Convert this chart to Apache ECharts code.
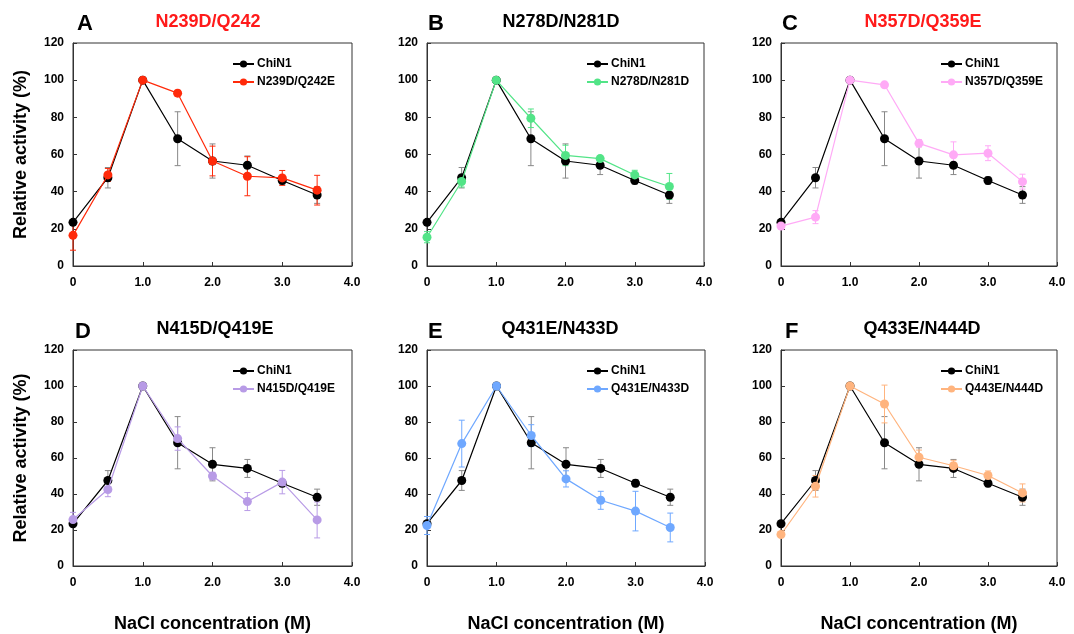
<!DOCTYPE html>
<html>
<head>
<meta charset="utf-8">
<script src="https://cdn.jsdelivr.net/npm/echarts@6/dist/echarts.min.js"></script>
<style>
  html, body { margin: 0; padding: 0; background: #fff; }
  #myChart { width: 1074px; height: 634px; }
</style>
</head>
<body>
<div id="myChart"></div>
<script>
// NaCl concentration (M)
var conc = [0, 0.5, 1.0, 1.5, 2.0, 2.5, 3.0, 3.5];
var xTicks = ['0', '1.0', '2.0', '3.0', '4.0'];

// wild type, same in every panel
var chin1 = [23.5, 47.5, 100, 68.5, 56.5, 54.2, 46, 38.2];
var chin1Err = [1.5, 5.5, 0, 14.5, 9.2, 5, 2, 4.5];

// mutants
var panelLetters = ['A', 'B', 'C', 'D', 'E', 'F'];
var panelTitles = ['N239D/Q242', 'N278D/N281D', 'N357D/Q359E', 'N415D/Q419E', 'Q431E/N433D', 'Q433E/N444D'];
var mutantNames = ['N239D/Q242E', 'N278D/N281D', 'N357D/Q359E', 'N415D/Q419E', 'Q431E/N433D', 'Q443E/N444D'];

var mutA = [16.5, 49, 100, 93, 56.5, 48.3, 47.4, 40.8];
var mutAErr = [8, 3.5, 0, 1.5, 8, 10.5, 4, 8];
var mutB = [15.5, 45.5, 100, 79.5, 59.5, 57.8, 49, 42.8];
var mutBErr = [3, 3, 0, 5, 5.5, 1, 2.5, 7];
var mutC = [21.5, 26.3, 100, 97.5, 66, 59.8, 60.7, 45.4];
var mutCErr = [1, 3.5, 0, 1, 2, 7, 4, 4];
var mutD = [25.8, 42.5, 100, 70.8, 50, 35.8, 46.6, 25.6];
var mutDErr = [4, 4, 0, 6.5, 2, 5, 6.5, 10];
var mutE = [22.5, 68, 100, 72.5, 48.4, 36.5, 30.5, 21.4];
var mutEErr = [5, 13, 0, 6, 4.5, 5, 11, 8];
var mutF = [17.5, 44.3, 100, 90, 60.4, 55.7, 50.3, 40.6];
var mutFErr = [1.5, 6, 0, 10.5, 4, 3, 2.5, 5];

var mutants = [mutA, mutB, mutC, mutD, mutE, mutF];
var mutantErrs = [mutAErr, mutBErr, mutCErr, mutDErr, mutEErr, mutFErr];
var mutantColors = ['#ff2a0a', '#52e487', '#ffaaf6', '#b89be6', '#6fa8ff', '#ffb47e'];
var titleColors = ['#ff1a1a', '#000', '#ff1a1a', '#000', '#000', '#000'];

var FONT = '"Liberation Sans", Arial, sans-serif';

// layout of the six plot boxes
var boxes = [
  {left: 73, top: 43, width: 279, height: 223},
  {left: 427, top: 43, width: 277, height: 223},
  {left: 781, top: 43, width: 276, height: 223},
  {left: 73, top: 350, width: 279, height: 223},
  {left: 427, top: 350, width: 278, height: 223},
  {left: 781, top: 350, width: 276, height: 223}
];
var letterPos = [[77, 24], [428, 24], [782, 24], [75, 332], [428, 332], [785, 332]];
var titlePos = [[208, 22], [561, 22], [923, 22], [215, 329], [560, 329], [922, 329]];

function errData(vals, errs) {
  return conc.map(function (x, i) { return [x, vals[i] - errs[i], vals[i] + errs[i]]; });
}

function errRender(color) {
  return function (params, api) {
    var x = api.value(0);
    var lo = api.coord([x, api.value(1)]);
    var hi = api.coord([x, api.value(2)]);
    var st = {stroke: color, lineWidth: 1};
    return {
      type: 'group',
      children: [
        {type: 'line', shape: {x1: lo[0], y1: lo[1], x2: hi[0], y2: hi[1]}, style: st},
        {type: 'line', shape: {x1: hi[0] - 3, y1: hi[1], x2: hi[0] + 3, y2: hi[1]}, style: st},
        {type: 'line', shape: {x1: lo[0] - 3, y1: lo[1], x2: lo[0] + 3, y2: lo[1]}, style: st}
      ]
    };
  };
}

var grids = [], xAxes = [], yAxes = [], series = [], legends = [], graphics = [];

boxes.forEach(function (b, i) {
  grids.push({left: b.left, top: b.top, width: b.width, height: b.height,
    show: true, borderColor: '#333', borderWidth: 1, backgroundColor: '#fff'});

  xAxes.push({
    type: 'value', gridIndex: i, min: 0, max: 4, interval: 1,
    axisLine: {lineStyle: {color: '#333'}},
    axisTick: {inside: true, length: 4, lineStyle: {color: '#333'}},
    splitLine: {show: false},
    axisLabel: {color: '#000', fontFamily: FONT, fontWeight: 'bold', fontSize: 12, margin: 11,
      formatter: function (v) { return xTicks[Math.round(v)]; }},
    name: i >= 3 ? 'NaCl concentration (M)' : '',
    nameLocation: 'middle', nameGap: 49,
    nameTextStyle: {color: '#000', fontFamily: FONT, fontWeight: 'bold', fontSize: 18}
  });

  yAxes.push({
    type: 'value', gridIndex: i, min: 0, max: 120, interval: 20,
    axisLine: {show: true, lineStyle: {color: '#333'}},
    axisTick: {show: true, inside: true, length: 4, lineStyle: {color: '#333'}},
    splitLine: {show: false},
    axisLabel: {color: '#000', fontFamily: FONT, fontWeight: 'bold', fontSize: 12, margin: 9},
    name: (i === 0 || i === 3) ? 'Relative activity (%)' : '',
    nameLocation: 'middle', nameGap: 43,
    nameTextStyle: {color: '#000', fontFamily: FONT, fontWeight: 'bold', fontSize: 18}
  });

  var mc = mutantColors[i];

  // error bars first so the markers sit on top
  series.push({
    type: 'custom', name: 'errChi' + i, xAxisIndex: i, yAxisIndex: i, z: 1,
    renderItem: errRender('#888'), data: errData(chin1, chin1Err), silent: true
  });
  series.push({
    type: 'custom', name: 'errMut' + i, xAxisIndex: i, yAxisIndex: i, z: 1,
    renderItem: errRender(mc), data: errData(mutants[i], mutantErrs[i]), silent: true
  });

  series.push({
    type: 'line', name: 'ChiN1', xAxisIndex: i, yAxisIndex: i, z: 3,
    data: conc.map(function (x, k) { return [x, chin1[k]]; }),
    symbol: 'circle', symbolSize: 9, color: '#000',
    lineStyle: {color: '#000', width: 1.2}, itemStyle: {color: '#000'}
  });
  series.push({
    type: 'line', name: mutantNames[i], xAxisIndex: i, yAxisIndex: i, z: 4,
    data: conc.map(function (x, k) { return [x, mutants[i][k]]; }),
    symbol: 'circle', symbolSize: 9, color: mc,
    lineStyle: {color: mc, width: 1.2}, itemStyle: {color: mc}
  });

  legends.push({
    data: ['ChiN1', mutantNames[i]], orient: 'vertical',
    left: b.left + 159, top: b.top + 15, padding: 0,
    itemWidth: 21, itemHeight: 9, itemGap: 6,
    textStyle: {color: '#000', fontFamily: FONT, fontWeight: 'bold', fontSize: 12, padding: [0, 0, 0, -2]},
    selectedMode: false
  });

  graphics.push({
    type: 'text', x: letterPos[i][0], y: letterPos[i][1],
    style: {text: panelLetters[i], fill: '#000', font: 'bold 22px ' + FONT, textVerticalAlign: 'middle'}
  });
  graphics.push({
    type: 'text', x: titlePos[i][0], y: titlePos[i][1],
    style: {text: panelTitles[i], fill: titleColors[i], font: 'bold 18px ' + FONT,
      textAlign: 'center', textVerticalAlign: 'middle'}
  });
});

var myChart = echarts.init(document.getElementById('myChart'));
myChart.setOption({
  animation: false,
  backgroundColor: '#fff',
  grid: grids,
  xAxis: xAxes,
  yAxis: yAxes,
  legend: legends,
  graphic: graphics,
  series: series
});
</script>
</body>
</html>
